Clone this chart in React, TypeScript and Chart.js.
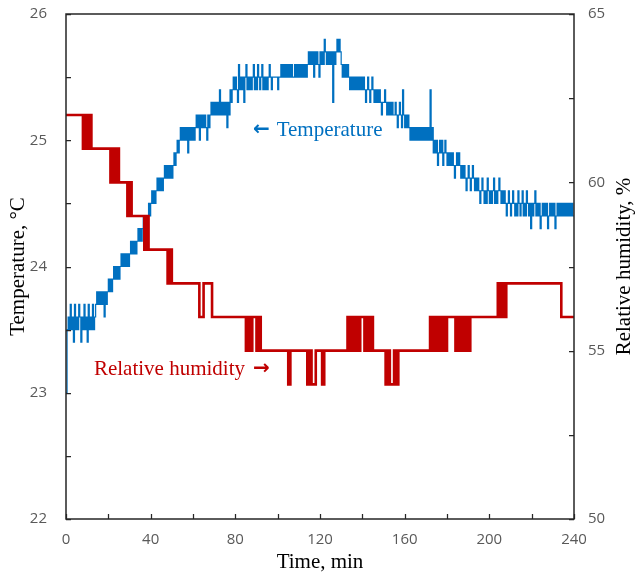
import React, { useEffect, useRef } from 'react';
import { Chart, registerables } from 'chart.js';

Chart.register(...registerables);

// Sampling intervals of the logged series (minutes)
const TEMP_STEP_MIN = 0.5;
const RH_STEP_MIN = 1;

// Temperature, °C (one reading every 0.5 min, t = 0..240; 10 readings per row = 5 min)
const temperatureC = [
  23.0, 23.5, 23.6, 23.5, 23.7, 23.5, 23.6, 23.4, 23.7, 23.5,
  23.6, 23.5, 23.7, 23.6, 23.4, 23.6, 23.5, 23.7, 23.5, 23.6,
  23.4, 23.7, 23.5, 23.6, 23.5, 23.7, 23.5, 23.6, 23.7, 23.8,
  23.7, 23.8, 23.7, 23.8, 23.7, 23.8, 23.6, 23.8, 23.7, 23.8,
  23.9, 23.8, 23.9, 23.8, 23.9, 24.0, 23.9, 24.0, 23.9, 24.0,
  23.9, 24.0, 24.1, 24.0, 24.1, 24.0, 24.1, 24.0, 24.1, 24.0,
  24.1, 24.2, 24.1, 24.2, 24.1, 24.2, 24.1, 24.2, 24.3, 24.2,
  24.3, 24.2, 24.3, 24.4, 24.3, 24.4, 24.3, 24.4, 24.5, 24.4,
  24.5, 24.6, 24.5, 24.6, 24.5, 24.6, 24.7, 24.6, 24.7, 24.6,
  24.7, 24.6, 24.7, 24.8, 24.7, 24.8, 24.7, 24.8, 24.7, 24.8,
  24.7, 24.8, 24.9, 24.8, 24.9, 25.0, 24.9, 25.0, 25.1, 25.0,
  25.1, 25.0, 25.1, 25.0, 25.1, 24.9, 25.1, 25.0, 25.1, 25.0,
  25.1, 25.0, 25.1, 25.2, 25.1, 25.2, 25.0, 25.2, 25.1, 25.2,
  25.1, 25.2, 25.1, 25.0, 25.2, 25.1, 25.2, 25.3, 25.2, 25.3,
  25.2, 25.3, 25.2, 25.3, 25.2, 25.4, 25.2, 25.3, 25.2, 25.3,
  25.2, 25.3, 25.1, 25.3, 25.2, 25.4, 25.3, 25.4, 25.5, 25.4,
  25.5, 25.4, 25.3, 25.6, 25.4, 25.5, 25.4, 25.5, 25.3, 25.5,
  25.6, 25.4, 25.5, 25.4, 25.5, 25.4, 25.5, 25.6, 25.4, 25.5,
  25.4, 25.6, 25.5, 25.4, 25.5, 25.6, 25.4, 25.5, 25.4, 25.5,
  25.4, 25.5, 25.6, 25.5, 25.4, 25.5, 25.5, 25.5, 25.5, 25.5,
  25.4, 25.5, 25.5, 25.6, 25.5, 25.6, 25.5, 25.6, 25.5, 25.6,
  25.5, 25.6, 25.5, 25.6, 25.5, 25.5, 25.6, 25.5, 25.6, 25.5,
  25.6, 25.5, 25.6, 25.5, 25.6, 25.5, 25.6, 25.5, 25.6, 25.7,
  25.6, 25.7, 25.6, 25.7, 25.5, 25.7, 25.6, 25.7, 25.6, 25.5,
  25.7, 25.6, 25.7, 25.6, 25.8, 25.7, 25.6, 25.7, 25.6, 25.7,
  25.6, 25.7, 25.3, 25.7, 25.6, 25.7, 25.8, 25.7, 25.8, 25.7,
  25.6, 25.5, 25.6, 25.5, 25.6, 25.5, 25.6, 25.5, 25.4, 25.5,
  25.4, 25.5, 25.4, 25.5, 25.4, 25.5, 25.4, 25.5, 25.4, 25.5,
  25.4, 25.5, 25.4, 25.3, 25.4, 25.5, 25.4, 25.3, 25.4, 25.5,
  25.4, 25.3, 25.4, 25.3, 25.4, 25.3, 25.4, 25.3, 25.2, 25.3,
  25.3, 25.4, 25.3, 25.2, 25.3, 25.2, 25.3, 25.2, 25.3, 25.2,
  25.2, 25.3, 25.2, 25.1, 25.2, 25.3, 25.2, 25.1, 25.4, 25.2,
  25.1, 25.2, 25.1, 25.2, 25.1, 25.0, 25.1, 25.0, 25.1, 25.0,
  25.1, 25.0, 25.1, 25.0, 25.1, 25.0, 25.1, 25.0, 25.1, 25.0,
  25.1, 25.0, 25.1, 25.0, 25.4, 25.0, 25.1, 24.9, 25.0, 24.9,
  25.0, 24.8, 24.9, 25.0, 24.9, 25.0, 24.8, 24.9, 25.0, 24.9,
  24.8, 24.9, 24.8, 24.9, 24.8, 24.9, 24.8, 24.7, 24.8, 24.9,
  24.8, 24.9, 24.8, 24.7, 24.8, 24.7, 24.8, 24.7, 24.6, 24.7,
  24.8, 24.7, 24.6, 24.7, 24.8, 24.7, 24.6, 24.7, 24.6, 24.7,
  24.6, 24.5, 24.6, 24.7, 24.6, 24.5, 24.6, 24.5, 24.7, 24.6,
  24.5, 24.6, 24.5, 24.6, 24.7, 24.5, 24.6, 24.5, 24.6, 24.7,
  24.6, 24.5, 24.6, 24.5, 24.6, 24.5, 24.4, 24.5, 24.6, 24.5,
  24.4, 24.5, 24.6, 24.5, 24.4, 24.5, 24.4, 24.6, 24.5, 24.4,
  24.5, 24.6, 24.4, 24.5, 24.4, 24.6, 24.5, 24.4, 24.5, 24.3,
  24.5, 24.4, 24.5, 24.6, 24.4, 24.5, 24.4, 24.5, 24.3, 24.4,
  24.5, 24.4, 24.5, 24.4, 24.5, 24.3, 24.4, 24.5, 24.4, 24.5,
  24.4, 24.5, 24.3, 24.4, 24.5, 24.4, 24.5, 24.4, 24.5, 24.4,
  24.5, 24.4, 24.5, 24.4, 24.5, 24.4, 24.5, 24.4, 24.5, 24.4,
  24.4,
];

// Relative humidity, % (one reading per minute, t = 0..240)
const relativeHumidity = [
  62, 62, 62, 62, 62, 62, 62, 62,
  61, 62, 61, 62, 61,
  61, 61, 61, 61, 61, 61, 61, 61,
  60, 61, 60, 61,
  60, 60, 60, 60,
  59, 60, 59,
  59, 59, 59, 59, 59,
  58, 59, 58,
  58, 58, 58, 58, 58, 58, 58, 58,
  57, 58, 57,
  57, 57, 57, 57, 57, 57, 57, 57, 57, 57, 57, 57,
  56, 56,
  57, 57, 57, 57,
  56, 56, 56, 56, 56, 56, 56, 56, 56, 56, 56, 56, 56, 56, 56, 56,
  55, 56, 55, 56, 56, 55, 56, 55,
  55, 55, 55, 55, 55, 55, 55, 55, 55, 55, 55, 55,
  54,
  55, 55, 55, 55, 55, 55, 55, 55,
  54, 55, 54, 54,
  55, 55, 55,
  54,
  55, 55, 55, 55, 55, 55, 55, 55, 55, 55, 55,
  56, 55, 56, 55, 56, 55, 56,
  56,
  55, 56, 55, 56,
  55, 55, 55, 55, 55, 55,
  54, 55, 54, 54, 55, 54,
  55, 55, 55, 55, 55, 55, 55, 55, 55, 55, 55, 55, 55, 55, 55,
  56, 55, 56, 55, 56,
  55, 56, 55, 56,
  56, 56, 56,
  55, 56, 55, 56, 55, 56, 55,
  56, 56, 56, 56, 56, 56, 56, 56, 56, 56, 56, 56, 56,
  57, 56, 57, 56, 57,
  57, 57, 57, 57, 57, 57, 57, 57, 57, 57, 57, 57, 57, 57, 57, 57, 57, 57, 57, 57, 57, 57, 57, 57, 57,
  56, 56, 56, 56, 56, 56, 56,
];

// Axis ranges / ticks
const TIME_MIN = 0;
const TIME_MAX = 240;
const TIME_TICK_STEP = 20;
const TIME_LABEL_STEP = 40;
const TEMP_MIN = 22;
const TEMP_MAX = 26;
const TEMP_TICK_STEP = 0.5;
const RH_MIN = 50;
const RH_MAX = 65;
const RH_TICK_STEP = 2.5;
const RH_LABEL_STEP = 5;

// Titles and in-plot annotations (anchored in data coordinates)
const X_TITLE = 'Time, min';
const Y_TITLE = 'Temperature, \u00B0C';
const Y1_TITLE = 'Relative humidity, %';
const TEMP_NOTE = { text: 'Temperature', arrow: '\u2190', time: 88.3, value: 25.075 };
const RH_NOTE = { text: 'Relative humidity', arrow: '\u2192', time: 13.2, value: 54.43 };

const BLUE = '#0070C0';
const RED = '#C00000';
const TICK_GREY = '#595959';
const FRAME = '#262626';
const SERIF = "'Liberation Serif', 'Times New Roman', serif";
const SANS = "'Open Sans', 'Liberation Sans', sans-serif";
const ARROW_FONT = "bold 20px 'DejaVu Sans', sans-serif";

const framePlugin = {
  id: 'frameAndText',
  afterDraw(chart: any) {
    const { ctx, chartArea: a, scales } = chart;
    const x = scales.x;
    const y = scales.y;
    const y1 = scales.y1;
    ctx.save();
    // inward tick marks
    ctx.strokeStyle = FRAME;
    ctx.lineWidth = 1.25;
    const TL = 5;
    ctx.beginPath();
    x.ticks.forEach((t: any) => {
      const px = Math.round(x.getPixelForValue(t.value)) + 0.5;
      ctx.moveTo(px, a.bottom);
      ctx.lineTo(px, a.bottom - TL);
    });
    y.ticks.forEach((t: any) => {
      const py = Math.round(y.getPixelForValue(t.value)) + 0.5;
      ctx.moveTo(a.left, py);
      ctx.lineTo(a.left + TL, py);
    });
    y1.ticks.forEach((t: any) => {
      const py = Math.round(y1.getPixelForValue(t.value)) + 0.5;
      ctx.moveTo(a.right, py);
      ctx.lineTo(a.right - TL, py);
    });
    ctx.stroke();
    // frame
    ctx.lineWidth = 1.5;
    ctx.strokeRect(a.left, a.top, a.right - a.left, a.bottom - a.top);

    // axis titles
    const titleFont = `21px ${SERIF}`;
    ctx.fillStyle = '#000';
    ctx.font = titleFont;
    ctx.textAlign = 'center';
    ctx.textBaseline = 'middle';
    ctx.fillText(X_TITLE, (a.left + a.right) / 2, 562);
    const midY = (a.top + a.bottom) / 2;
    ctx.save();
    ctx.translate(18, midY);
    ctx.rotate(-Math.PI / 2);
    ctx.fillText(Y_TITLE, 0, 0);
    ctx.restore();
    ctx.save();
    ctx.translate(624, midY);
    ctx.rotate(-Math.PI / 2);
    ctx.fillText(Y1_TITLE, 0, 0);
    ctx.restore();

    // annotations
    ctx.textAlign = 'left';
    // "← Temperature"
    let px = x.getPixelForValue(TEMP_NOTE.time);
    let py = y.getPixelForValue(TEMP_NOTE.value);
    ctx.fillStyle = BLUE;
    ctx.font = ARROW_FONT;
    ctx.fillText(TEMP_NOTE.arrow, px, py - 1);
    px += ctx.measureText(TEMP_NOTE.arrow).width + 7;
    ctx.font = titleFont;
    ctx.fillText(TEMP_NOTE.text, px, py);
    // "Relative humidity →"
    px = x.getPixelForValue(RH_NOTE.time);
    py = y1.getPixelForValue(RH_NOTE.value);
    ctx.fillStyle = RED;
    ctx.font = titleFont;
    ctx.fillText(RH_NOTE.text, px, py);
    px += ctx.measureText(RH_NOTE.text).width + 8;
    ctx.font = ARROW_FONT;
    ctx.fillText(RH_NOTE.arrow, px, py - 1);
    ctx.restore();
  },
};

const fixVertical = (w: number) => (s: any) => {
  s.width = w;
  s.paddingTop = 8;
  s.paddingBottom = 8;
};

export default function App() {
  const ref = useRef<HTMLCanvasElement | null>(null);

  useEffect(() => {
    if (!ref.current) return;
    const tempPts = temperatureC.map((v, i) => ({ x: i * TEMP_STEP_MIN, y: v }));
    const rhPts = relativeHumidity.map((v, i) => ({ x: i * RH_STEP_MIN, y: v }));
    const tickFont = { family: SANS, size: 15 };
    const chart = new Chart(ref.current, {
      type: 'line',
      data: {
        datasets: [
          {
            label: 'Relative humidity',
            data: rhPts,
            yAxisID: 'y1',
            borderColor: RED,
            borderWidth: 2.6,
            pointRadius: 0,
            stepped: true,
            fill: false,
          },
          {
            label: 'Temperature',
            data: tempPts,
            yAxisID: 'y',
            borderColor: BLUE,
            borderWidth: 1.2,
            pointRadius: 0,
            stepped: true,
            fill: false,
          },
        ],
      },
      options: {
        responsive: false,
        animation: false,
        events: [],
        layout: { padding: { top: 14, left: 0, right: 0, bottom: 0 } },
        plugins: { legend: { display: false }, tooltip: { enabled: false } },
        scales: {
          x: {
            type: 'linear',
            min: TIME_MIN,
            max: TIME_MAX,
            grid: { display: false, drawTicks: false },
            border: { display: false },
            ticks: {
              stepSize: TIME_TICK_STEP,
              autoSkip: false,
              maxRotation: 0,
              padding: 12,
              color: TICK_GREY,
              font: tickFont,
              callback: (v: any) => (Number(v) % TIME_LABEL_STEP === 0 ? String(v) : ''),
            },
            afterFit: (s: any) => {
              s.height = 57;
              s.paddingLeft = 5;
              s.paddingRight = 14;
            },
          },
          y: {
            type: 'linear',
            position: 'left',
            min: TEMP_MIN,
            max: TEMP_MAX,
            grid: { display: false, drawTicks: false },
            border: { display: false },
            ticks: {
              stepSize: TEMP_TICK_STEP,
              autoSkip: false,
              padding: 19,
              color: TICK_GREY,
              font: tickFont,
              callback: (v: any) => (Number.isInteger(Number(v)) ? String(v) : ''),
            },
            afterFit: fixVertical(66),
          },
          y1: {
            type: 'linear',
            position: 'right',
            min: RH_MIN,
            max: RH_MAX,
            grid: { display: false, drawTicks: false },
            border: { display: false },
            ticks: {
              stepSize: RH_TICK_STEP,
              autoSkip: false,
              padding: 14,
              color: TICK_GREY,
              font: tickFont,
              callback: (v: any) => (Number(v) % RH_LABEL_STEP === 0 ? String(v) : ''),
            },
            afterFit: fixVertical(61),
          },
        },
      },
      plugins: [framePlugin],
    });
    return () => chart.destroy();
  }, []);

  return (
    <div style={{ position: 'absolute', left: 0, top: 0, width: 635, height: 576, background: '#fff' }}>
      <canvas ref={ref} width={635} height={576} style={{ display: 'block' }} />
    </div>
  );
}
